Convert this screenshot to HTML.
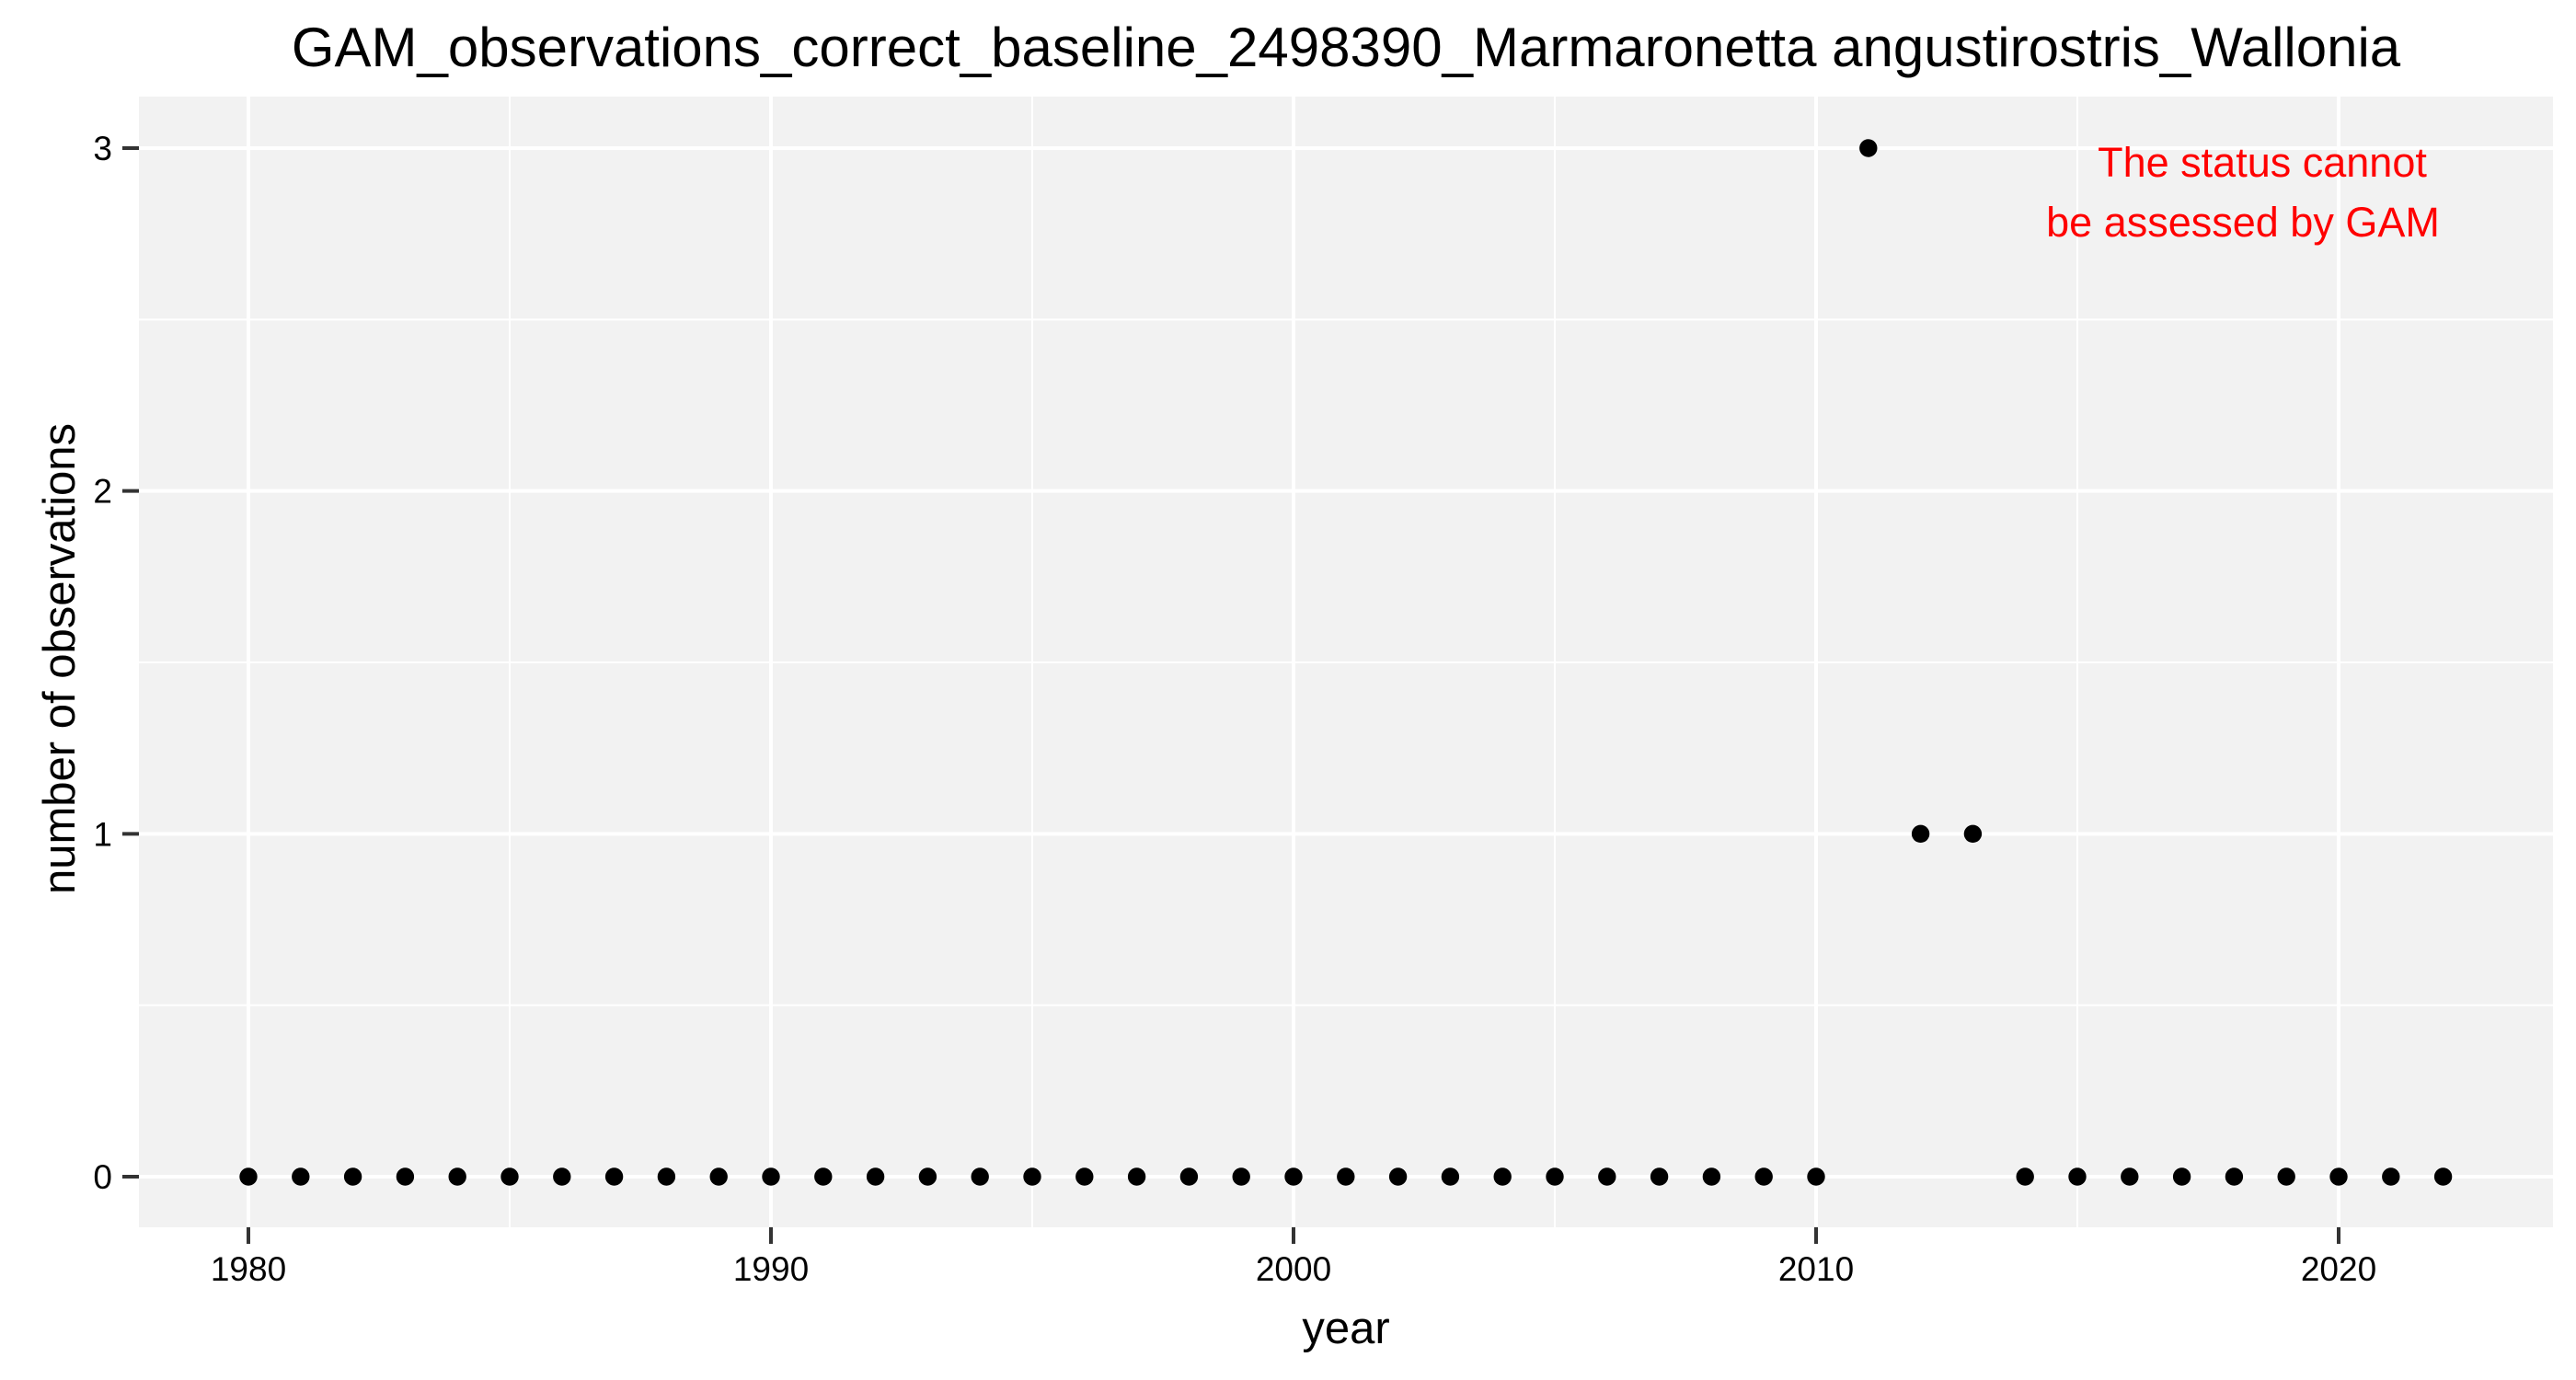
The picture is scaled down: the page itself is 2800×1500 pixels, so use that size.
<!DOCTYPE html>
<html><head><meta charset="utf-8"><style>
html,body{margin:0;padding:0;background:#fff;}
svg{display:block;font-family:"Liberation Sans",Arial,sans-serif;}
</style></head><body>
<svg id="chart" width="2800" height="1500" viewBox="0 0 2800 1500">
<rect x="0" y="0" width="2800" height="1500" fill="#fff"/>
<text x="1463" y="72" font-size="60" text-anchor="middle" fill="#000">GAM_observations_correct_baseline_2498390_Marmaronetta angustirostris_Wallonia</text>
<rect x="151" y="105" width="2624" height="1229" fill="#f2f2f2"/>
<g id="grid"></g>
<g id="axes"></g>
<g id="points"></g>
<text x="2459" y="192" font-size="45" text-anchor="middle" fill="#ff0000">The status cannot</text>
<text x="2438" y="257" font-size="45" text-anchor="middle" fill="#ff0000">be assessed by GAM</text>
<text x="1463" y="1460" font-size="49" text-anchor="middle" fill="#000">year</text>
<text x="0" y="0" font-size="49" text-anchor="middle" fill="#000" transform="translate(81,716) rotate(-90)">number of observations</text>
</svg>
<script>
const years = [1980,1981,1982,1983,1984,1985,1986,1987,1988,1989,1990,1991,1992,1993,1994,1995,1996,1997,1998,1999,2000,2001,2002,2003,2004,2005,2006,2007,2008,2009,2010,2011,2012,2013,2014,2015,2016,2017,2018,2019,2020,2021,2022];
const counts = [0,0,0,0,0,0,0,0,0,0,0,0,0,0,0,0,0,0,0,0,0,0,0,0,0,0,0,0,0,0,0,3,1,1,0,0,0,0,0,0,0,0,0];
const xTicks = [1980,1990,2000,2010,2020];
const xMinor = [1985,1995,2005,2015];
const yTicks = [0,1,2,3];
const yMinor = [0.5,1.5,2.5];

const NS='http://www.w3.org/2000/svg';
const X = v => 270 + (v-1980)*(2542-270)/40;
const Y = v => 1279 - v*(1279-161)/3;
const L=151,R=2775,T=105,B=1334;
const grid=document.getElementById('grid'), axes=document.getElementById('axes'), pts=document.getElementById('points');
function mk(tag,attrs,parent){const e=document.createElementNS(NS,tag);for(const k in attrs)e.setAttribute(k,attrs[k]);parent.appendChild(e);return e;}
xMinor.forEach(v=>{
  const l=mk('line',{x1:X(v),x2:X(v),y1:T,y2:B,stroke:'#fff','stroke-width':2},grid);
  
  
});
yMinor.forEach(v=>{
  const l=mk('line',{x1:L,x2:R,y1:Y(v),y2:Y(v),stroke:'#fff','stroke-width':2},grid);
  
  
});
xTicks.forEach(v=>{
  const l=mk('line',{x1:X(v),x2:X(v),y1:T,y2:B,stroke:'#fff','stroke-width':4},grid);
  
  
  const t=mk('line',{x1:X(v),x2:X(v),y1:B,y2:B+18,stroke:'#333','stroke-width':4},axes);
  
  
  const tx=mk('text',{x:X(v),y:1392,'font-size':37,'text-anchor':'middle',fill:'#000'},axes);
  tx.textContent=v;
  
  
});
yTicks.forEach(v=>{
  const l=mk('line',{x1:L,x2:R,y1:Y(v),y2:Y(v),stroke:'#fff','stroke-width':4},grid);
  
  
  const t=mk('line',{x1:L-18,x2:L,y1:Y(v),y2:Y(v),stroke:'#333','stroke-width':4},axes);
  
  
  const tx=mk('text',{x:122,y:Y(v)+13,'font-size':37,'text-anchor':'end',fill:'#000'},axes);
  tx.textContent=v;
  
  
});
years.forEach((yr,i)=>{
  const c=mk('circle',{cx:X(yr),cy:Y(counts[i]),r:9.7,fill:'#000'},pts);
  
  
});
</script>
</body></html>
